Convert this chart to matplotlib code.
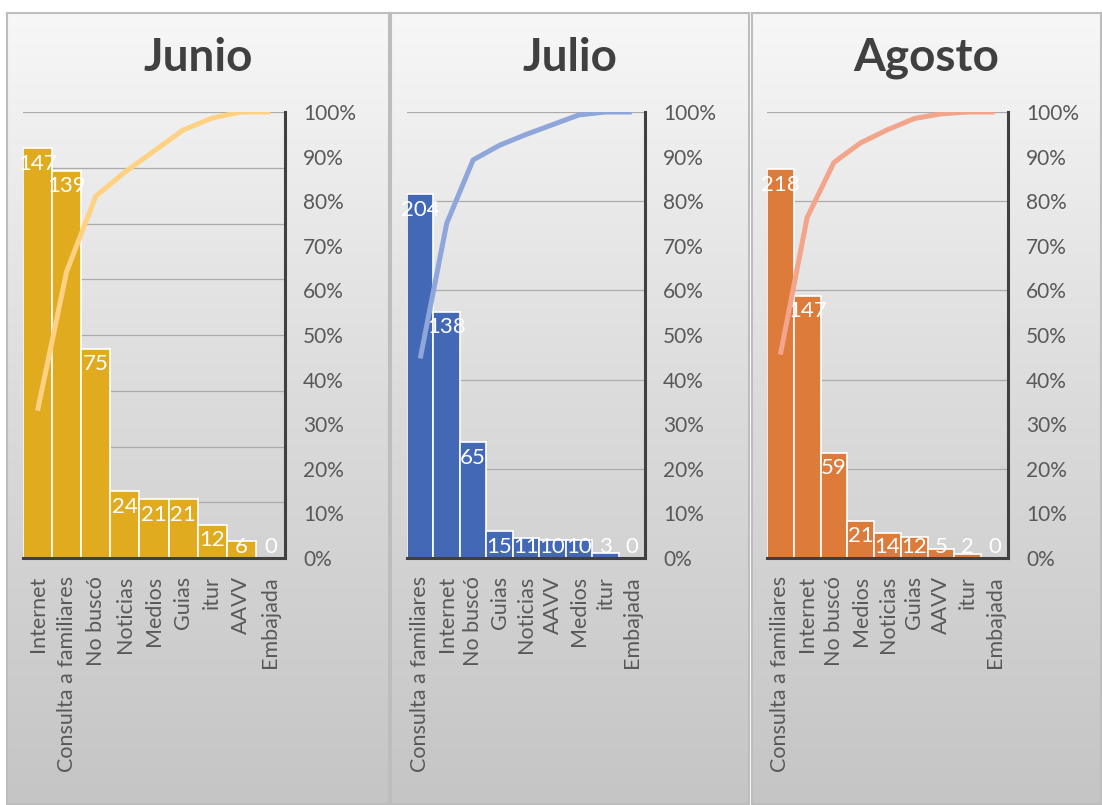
import numpy as np
import matplotlib
matplotlib.use("Agg")
import matplotlib.pyplot as plt
from matplotlib.colors import LinearSegmentedColormap
from matplotlib.ticker import FuncFormatter

plt.rcParams['font.family'] = ['Lato', 'DejaVu Sans']

# ---------------- data ----------------
titles = ["Junio", "Julio", "Agosto"]

junio_cats = ["Internet", "Consulta a familiares", "No buscó", "Noticias", "Medios",
              "Guias", "itur", "AAVV", "Embajada"]
junio_vals = [147, 139, 75, 24, 21, 21, 12, 6, 0]

julio_cats = ["Consulta a familiares", "Internet", "No buscó", "Guias", "Noticias",
              "AAVV", "Medios", "itur", "Embajada"]
julio_vals = [204, 138, 65, 15, 11, 10, 10, 3, 0]

agosto_cats = ["Consulta a familiares", "Internet", "No buscó", "Medios", "Noticias",
               "Guias", "AAVV", "itur", "Embajada"]
agosto_vals = [218, 147, 59, 21, 14, 12, 5, 2, 0]

left_max = [160, 250, 250]
left_step = [20, 50, 50]
pct_ticks = [0, 0.1, 0.2, 0.3, 0.4, 0.5, 0.6, 0.7, 0.8, 0.9, 1.0]

bar_colors = ["#E0AB1F", "#4368B6", "#DC7B3A"]
line_colors = ["#FFD283", "#8FA6DA", "#F3A58C"]

# ---------------- layout ----------------
W, H = 1102, 805
fig = plt.figure(figsize=(W / 100, H / 100), dpi=100)
fig.patch.set_facecolor("white")


def frac(x0, y0, x1, y1):
    return [x0 / W, 1 - y1 / H, (x1 - x0) / W, (y1 - y0) / H]


panels = [(7, 13, 389, 804), (391, 13, 749, 804), (752, 13, 1101, 804)]
plots = [(23, 112, 285, 558), (407, 112, 645, 558), (767, 112, 1008, 558)]

grad_cmap = LinearSegmentedColormap.from_list("bg", ["#C5C5C5", "#DBDBDB", "#F7F7F7"])
grad = np.linspace(0, 1, 256).reshape(-1, 1)

datasets = [(junio_cats, junio_vals), (julio_cats, julio_vals), (agosto_cats, agosto_vals)]

for k in range(3):
    cats, vals = datasets[k]
    # panel background
    bg = fig.add_axes(frac(*panels[k]), zorder=0)
    bg.imshow(grad, aspect="auto", cmap=grad_cmap, extent=[0, 1, 0, 1], origin="lower")
    bg.set_xticks([])
    bg.set_yticks([])
    for s in bg.spines.values():
        s.set_color("#BDBDBD")
        s.set_linewidth(1.5)
    px0, py0, px1, py1 = panels[k]
    fig.text(((px0 + px1) / 2) / W, 1 - 58 / H, titles[k], ha="center", va="center",
             fontsize=33, fontweight="bold", color="#404040", zorder=5)

    ax = fig.add_axes(frac(*plots[k]), zorder=2)
    ax.set_facecolor("none")
    x = np.arange(len(cats))
    ax.bar(x, vals, width=1.0, color=bar_colors[k], edgecolor="white", linewidth=1.2, zorder=2)
    ax.set_xlim(-0.5, len(cats) - 0.5)
    ax.set_ylim(0, left_max[k])
    ax.set_yticks(np.arange(0, left_max[k] + 1, left_step[k]))
    ax.yaxis.grid(True, color="#ABABAB", linewidth=0.9, zorder=1)
    ax.set_axisbelow(True)
    ax.set_xticks(x)
    ax.set_xticklabels(cats, rotation=90, fontsize=15.5, color="#595959", va="top")
    ax.tick_params(axis="x", length=0, pad=13)
    for s in ["top", "left", "right"]:
        ax.spines[s].set_visible(False)
    ax.spines["bottom"].set_color("#404040")
    ax.spines["bottom"].set_linewidth(2.2)
    ax.spines["bottom"].set_zorder(3)

    # data labels (inside end)
    ax_h_px = (plots[k][3] - plots[k][1])
    for xi, v in zip(x, vals):
        h_px = v / left_max[k] * ax_h_px
        if h_px >= 26:
            ax.annotate(str(v), xy=(xi, v), xytext=(0, -4), textcoords="offset points",
                        ha="center", va="top", fontsize=16, color="white", zorder=4)
        else:
            ax.annotate(str(v), xy=(xi, 0), xytext=(0, 1), textcoords="offset points",
                        ha="center", va="bottom", fontsize=16, color="white", zorder=4)

    # cumulative line (right axis)
    ax2 = ax.twinx()
    total = float(sum(vals))
    cum = np.cumsum(vals) / total
    ax2.plot(x, cum, color=line_colors[k], linewidth=3.6, solid_capstyle="butt", zorder=5)
    ax2.set_ylim(0, 1)
    ax2.set_yticks(pct_ticks)
    ax2.yaxis.set_major_formatter(FuncFormatter(lambda v, p: f"{int(round(v * 100))}%"))
    ax2.tick_params(axis="y", length=0, pad=13, labelsize=15, labelcolor="#595959")
    for s in ["top", "left", "bottom"]:
        ax2.spines[s].set_visible(False)
    ax2.spines["right"].set_color("#404040")
    ax2.spines["right"].set_linewidth(2.2)
    # twinx re-enables left ticks on the host axes; hide them afterwards
    ax.tick_params(axis="y", left=False, right=False, labelleft=False, labelright=False)

fig.savefig("out.png", dpi=100, facecolor="white")
